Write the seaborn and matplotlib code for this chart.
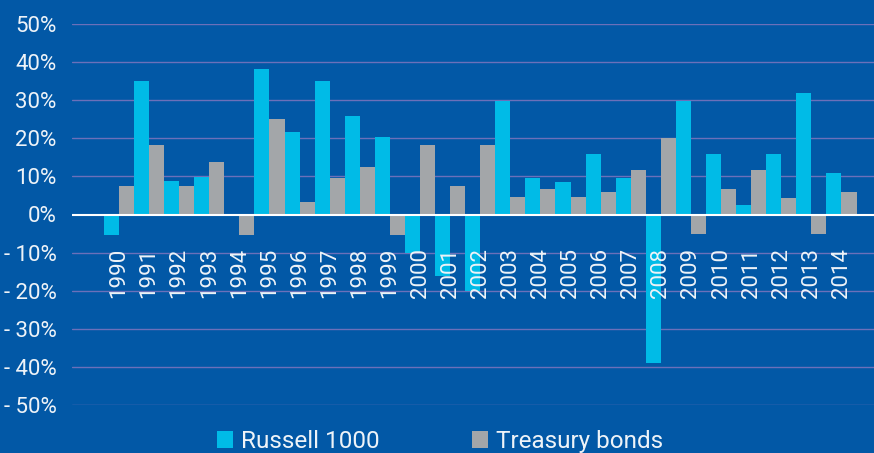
import pandas as pd
import matplotlib.pyplot as plt
import seaborn as sns

# values (% annual return)
years = [str(y) for y in range(1990, 2015)]
russell = [-5.4, 35.0, 8.9, 9.8, 0.0, 38.2, 21.6, 35.0, 25.8, 20.3,
           -10.2, -16.1, -20.2, 29.7, 9.7, 8.4, 15.8, 9.7, -38.9, 29.7,
           15.8, 2.4, 15.8, 31.8, 10.8]
treasury = [7.6, 18.2, 7.6, 13.7, -5.4, 25.0, 3.2, 9.7, 12.4, -5.4,
            18.2, 7.6, 18.2, 4.5, 6.8, 4.5, 5.8, 11.8, 20.0, -5.2,
            6.8, 11.8, 4.2, -5.2, 5.8]
series_names = ["Russell 1000", "Treasury bonds"]
y_ticks = [-50, -40, -30, -20, -10, 0, 10, 20, 30, 40, 50]
y_tick_labels = ["- 50%", "- 40%", "- 30%", "- 20%", "- 10%", "0%",
                 "10%", "20%", "30%", "40%", "50%"]

bg = "#0258A6"
cyan = "#00BBE7"
gray = "#A3A6A9"
grid_col = "#6B70BA"
text_col = "#EEF3F8"

df = pd.DataFrame({
    "year": years * 2,
    "value": russell + treasury,
    "series": [series_names[0]] * len(years) + [series_names[1]] * len(years),
})

sns.set_style("white")
plt.rcParams["font.family"] = ["Roboto", "DejaVu Sans"]

fig = plt.figure(figsize=(8.74, 4.53), dpi=100, facecolor=bg)
ax = fig.add_axes([72 / 874, 1 - 405 / 453, 1 - 72 / 874, (405 - 24) / 453])
ax.set_facecolor(bg)

sns.barplot(data=df, x="year", y="value", hue="series",
            palette=[cyan, gray], width=1.0, dodge=True, saturation=1,
            linewidth=0, ax=ax, zorder=2)

ax.set_ylim(-50, 50)
ax.set_xlim(-1.56, 25.08)
ax.set_yticks(y_ticks)
ax.set_yticklabels(y_tick_labels)
ax.tick_params(axis="y", length=0, pad=11, labelsize=16, labelcolor=text_col)
ax.set_xticks([])
ax.set_xlabel("")
ax.set_ylabel("")
for s in ax.spines.values():
    s.set_visible(False)

# grid lines behind bars, white zero line on top
for t in y_ticks:
    if t != 0:
        ax.axhline(t, color=grid_col, lw=1.0, zorder=1)
ax.axhline(0, color="white", lw=1.5, zorder=3)

# year labels sit inside the plot, rotated
for i, yr in enumerate(years):
    ax.text(i, -8.7, yr, rotation=90, ha="center", va="top",
            fontsize=16, color=text_col, zorder=4)

handles, labels = ax.get_legend_handles_labels()
ax.get_legend().remove()
fig.legend(handles, labels, loc="center", ncol=2,
           bbox_to_anchor=(440 / 874, 1 - 441.5 / 453),
           frameon=False, fontsize=17.5, labelcolor=text_col,
           handlelength=0.67, handleheight=0.67, handletextpad=0.33,
           columnspacing=3.8, borderaxespad=0)

fig.savefig("out.png", dpi=100, facecolor=bg)
